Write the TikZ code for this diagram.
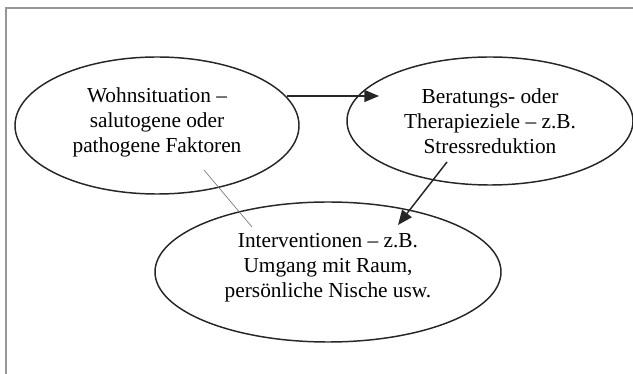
\documentclass[tikz,border=0pt]{standalone}
\usepackage{fontspec}
\setmainfont{Liberation Serif}
\usetikzlibrary{shapes.geometric,arrows.meta}

\begin{document}
\begin{tikzpicture}[x=0.75pt,y=0.75pt,yscale=-1,xscale=1,
  oval/.style={draw=black!85, line width=1.1, ellipse, inner sep=0},
  txt/.style={align=center, inner sep=0, font=\fontsize{16}{18.75}\selectfont},
  pfeil/.style={draw=black!85, line width=1.1, -{Triangle[length=11pt,width=9pt]}}]
\useasboundingbox (0,0) rectangle (633,374);

%Frame
\draw [color={rgb, 255:red, 150; green, 150; blue, 150 }, line width=1.5] (6,374) -- (6,8) -- (633,8) ;

%Shape: Ellipse [wohn]
\node [oval, minimum width=213pt, minimum height=102.75pt] (wohn) at (157,125.5) {};
%Shape: Ellipse [ziele]
\node [oval, minimum width=214.5pt, minimum height=96pt] (ziele) at (490,121) {};
%Shape: Ellipse [interv]
\node [oval, minimum width=259.5pt, minimum height=105pt] (interv) at (328,272) {};

% Text Node
\node [txt] (wohnText) at (157,122) {Wohnsituation --\\salutogene oder\\pathogene Faktoren};
% Text Node
\node [txt] (zieleText) at (490,121.5) {Beratungs- oder\\Therapieziele -- z.B.\\Stressreduktion};
% Text Node
\node [txt] (intervText) at (328,267.5) {Interventionen -- z.B.\\Umgang mit Raum,\\persönliche Nische usw.};

%Connector ends
\coordinate (wohnA) at (287,96) ;
\coordinate (zieleA) at (379,96) ;
\coordinate (zieleB) at (447,162) ;
\coordinate (intervA) at (398,225) ;
\coordinate (wohnB) at (204,170) ;
\coordinate (intervB) at (252,227) ;

%Straight Lines
\draw [pfeil] (wohnA) -- (zieleA) ;
\draw [pfeil] (zieleB) -- (intervA) ;
\draw [color={rgb, 255:red, 120; green, 120; blue, 120 }, line width=0.5] (wohnB) -- (intervB) ;

\end{tikzpicture}
\end{document}
